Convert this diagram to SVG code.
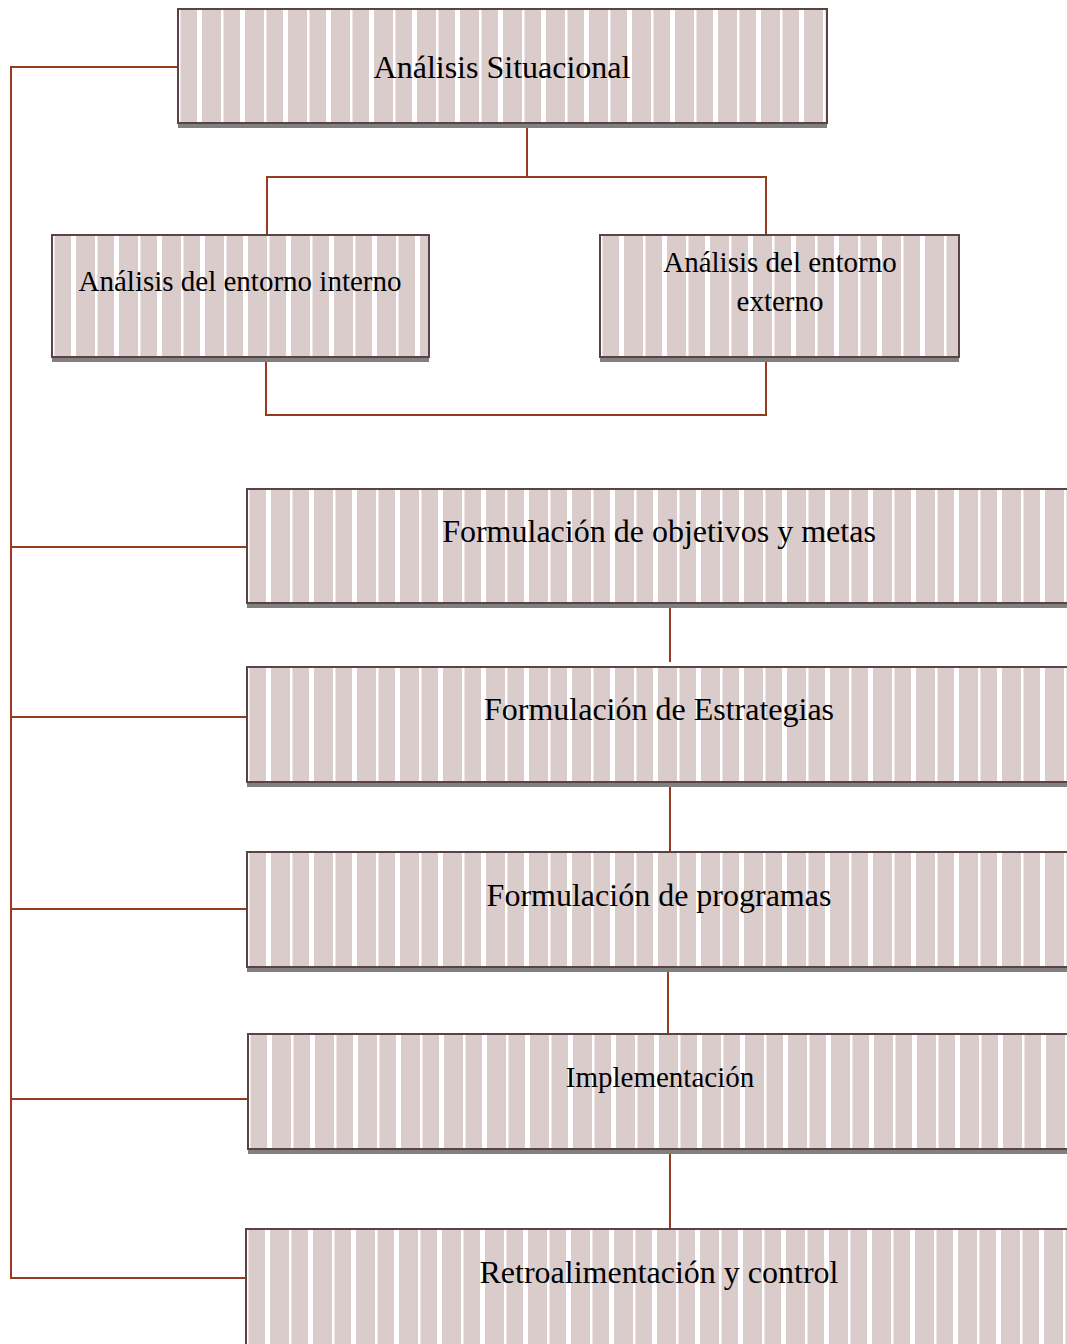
<svg xmlns="http://www.w3.org/2000/svg" width="1067" height="1344" viewBox="0 0 1067 1344">
<defs>
<pattern id="stripes" patternUnits="userSpaceOnUse" x="0" y="0" width="43" height="10">
<rect x="0" y="0" width="43" height="10" fill="#ffffff"/>
<rect x="2.5" y="0" width="16.5" height="10" fill="#dbcccc"/>
<rect x="24" y="0" width="19" height="10" fill="#dbcccc"/>
</pattern>
</defs>
<style>
.box{fill:url(#stripes);stroke:#5a4246;stroke-width:2}
.shadow{fill:#808080}
.lbl{font-family:"Liberation Serif","Times New Roman",serif;fill:#000;text-anchor:middle}
.big{font-size:32px}
.small{font-size:29px}
.conn{fill:none;stroke:#943b20;stroke-width:2}
</style>
<g id="connectors">
<path class="conn" d="M178,67 H11 V1278 H247"/>
<path class="conn" d="M11,547 H247"/>
<path class="conn" d="M11,717 H247"/>
<path class="conn" d="M11,909 H247"/>
<path class="conn" d="M11,1099 H247"/>
<path class="conn" d="M527,124 V177 M267,235 V177 H766 V235"/>
<path class="conn" d="M266,358 V415 H766 V358"/>
<path class="conn" d="M670,604 V662"/>
<path class="conn" d="M670,783 V852"/>
<path class="conn" d="M668,963 V1035"/>
<path class="conn" d="M670,1150 V1229"/>
</g>
<g id="node-situacional" transform="translate(178,9)">
<rect class="shadow" x="0" y="114" width="649" height="5"/>
<rect class="box" x="0" y="0" width="649" height="114"/>
<text class="lbl big" x="324" y="69">Análisis Situacional</text>
</g>
<g id="node-interno" transform="translate(52,235)">
<rect class="shadow" x="0" y="122" width="377" height="5"/>
<rect class="box" x="0" y="0" width="377" height="122"/>
<text class="lbl small" x="188" y="56">Análisis del entorno interno</text>
</g>
<g id="node-externo" transform="translate(600,235)">
<rect class="shadow" x="0" y="122" width="359" height="5"/>
<rect class="box" x="0" y="0" width="359" height="122"/>
<text class="lbl small" x="180" y="37">Análisis del entorno</text>
<text class="lbl small" x="180" y="76">externo</text>
</g>
<g id="node-objetivos" transform="translate(247,489)">
<rect class="shadow" x="0" y="114" width="840" height="5"/>
<rect class="box" x="0" y="0" width="840" height="114"/>
<text class="lbl big" x="412" y="53">Formulación de objetivos y metas</text>
</g>
<g id="node-estrategias" transform="translate(247,667)">
<rect class="shadow" x="0" y="115" width="840" height="5"/>
<rect class="box" x="0" y="0" width="840" height="115"/>
<text class="lbl big" x="412" y="53">Formulación de Estrategias</text>
</g>
<g id="node-programas" transform="translate(247,852)">
<rect class="shadow" x="0" y="115" width="840" height="5"/>
<rect class="box" x="0" y="0" width="840" height="115"/>
<text class="lbl big" x="412" y="54">Formulación de programas</text>
</g>
<g id="node-implementacion" transform="translate(248,1034)">
<rect class="shadow" x="0" y="115" width="840" height="5"/>
<rect class="box" x="0" y="0" width="840" height="115"/>
<text class="lbl small" x="412" y="53">Implementación</text>
</g>
<g id="node-retro" transform="translate(246,1229)">
<rect class="box" x="0" y="0" width="840" height="130"/>
<text class="lbl big" x="413" y="54">Retroalimentación y control</text>
</g>
</svg>
